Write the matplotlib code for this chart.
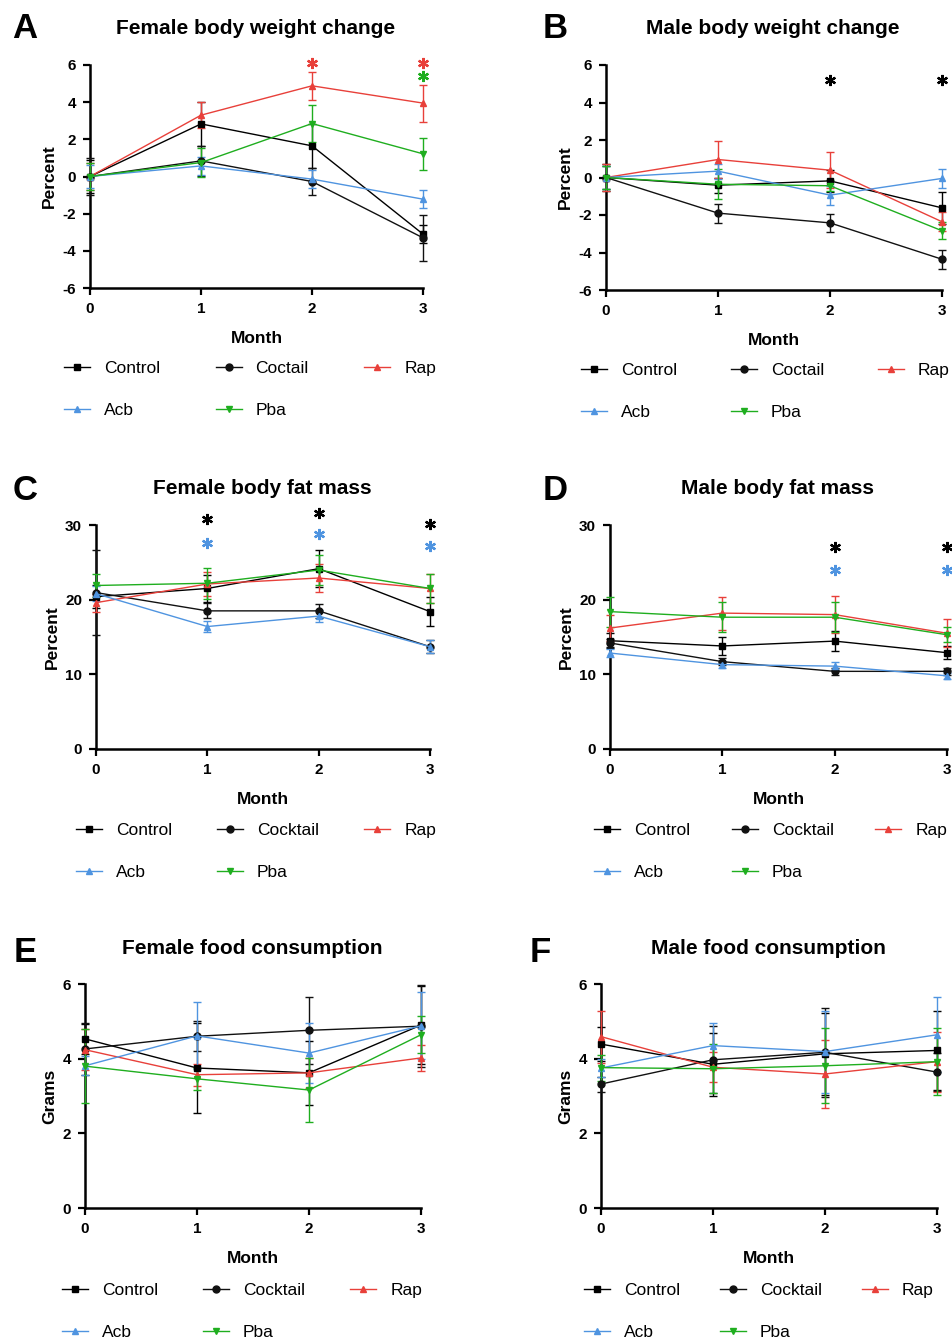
import numpy as np
import matplotlib
matplotlib.use("Agg")
import matplotlib.pyplot as plt
from matplotlib.lines import Line2D

plt.rcParams['font.family'] = ['Liberation Sans', 'DejaVu Sans']
plt.rcParams['axes.unicode_minus'] = False

W, H = 953, 1340
months = [0, 1, 2, 3]
groups = ["Control", "Coctail", "Rap", "Acb", "Pba"]
groups_alt = ["Control", "Cocktail", "Rap", "Acb", "Pba"]
colors = ["#000000", "#111111", "#e8403a", "#4f94e0", "#1fae1f"]
markers = ["s", "o", "^", "^", "v"]

# rows: Control, Cocktail, Rap, Acb, Pba
A_mean = [[0, 2.83, 1.65, -3.10], [0, 0.84, -0.27, -3.30], [0, 3.30, 4.88, 3.95],
          [0, 0.57, -0.14, -1.22], [0, 0.75, 2.85, 1.22]]
A_err = [[0.9, 1.2, 1.2, 0.5], [1.0, 0.8, 0.75, 1.25], [0.7, 0.7, 0.75, 1.0],
         [0.6, 0.5, 0.5, 0.5], [0.7, 0.8, 1.0, 0.85]]
B_mean = [[0, -0.41, -0.18, -1.62], [0, -1.90, -2.42, -4.36], [0, 0.96, 0.39, -2.36],
          [0, 0.34, -0.94, -0.05], [0, -0.36, -0.44, -2.84]]
B_err = [[0.7, 0.4, 0.6, 0.85], [0.6, 0.5, 0.5, 0.5], [0.7, 0.97, 0.95, 0.5],
         [0.6, 0.4, 0.5, 0.5], [0.6, 0.8, 0.3, 0.45]]
C_mean = [[20.4, 21.5, 24.15, 18.4], [20.95, 18.5, 18.5, 13.7], [19.6, 22.1, 22.9, 21.5],
          [20.8, 16.4, 17.8, 13.7], [21.9, 22.2, 23.97, 21.5]]
C_err = [[1.5, 1.8, 2.5, 1.9], [5.7, 1.0, 0.9, 0.9], [1.2, 1.6, 1.9, 2.0],
         [1.0, 0.7, 0.8, 0.9], [1.6, 2.1, 2.0, 2.0]]
D_mean = [[14.5, 13.8, 14.45, 12.9], [14.2, 11.7, 10.4, 10.4], [16.2, 18.2, 18.0, 15.5],
          [12.85, 11.3, 11.1, 9.8], [18.4, 17.65, 17.65, 15.3]]
D_err = [[1.0, 1.2, 1.3, 0.9], [0.5, 0.5, 0.5, 0.5], [1.7, 2.2, 2.5, 1.9],
         [0.5, 0.5, 0.5, 0.4], [2.0, 2.0, 2.0, 1.0]]
E_mean = [[4.53, 3.75, 3.62, 4.90], [4.26, 4.60, 4.76, 4.87], [4.24, 3.57, 3.62, 4.02],
          [3.81, 4.61, 4.15, 4.88], [3.80, 3.46, 3.16, 4.64]]
E_err = [[0.4, 1.2, 0.85, 1.05], [0.7, 0.4, 0.9, 1.1], [0.55, 0.3, 0.4, 0.35],
         [0.25, 0.9, 0.8, 0.9], [1.0, 0.3, 0.85, 0.5]]
F_mean = [[4.39, 3.85, 4.13, 4.22], [3.32, 3.97, 4.17, 3.64], [4.59, 3.77, 3.59, 3.92],
          [3.75, 4.35, 4.19, 4.64], [3.76, 3.73, 3.81, 3.92]]
F_err = [[0.45, 0.85, 1.1, 1.05], [0.2, 0.9, 1.2, 0.5], [0.7, 0.4, 0.9, 0.8],
         [0.25, 0.6, 1.1, 1.0], [0.35, 0.65, 1.0, 0.9]]

# significance asterisks: (month, y, colour index)
A_stars = [(2, 6.1, 2), (3, 6.1, 2), (3, 5.4, 4)]
B_stars = [(2, 5.2, 0), (3, 5.2, 0)]
C_stars = [(1, 30.8, 0), (1, 27.6, 3), (2, 31.6, 0), (2, 28.8, 3), (3, 30.2, 0), (3, 27.2, 3)]
D_stars = [(2, 27.0, 0), (2, 24.0, 3), (3, 27.0, 0), (3, 24.0, 3)]

panels = [
    # letter, title, ylabel, mean, err, stars, ylim, yticks, labels,
    # axes box px (l,t,r,b), letter xy, title xy, legend xy, column spacing
    ("A", "Female body weight change", "Percent", A_mean, A_err, A_stars, (-6, 6), [-6, -4, -2, 0, 2, 4, 6],
     groups, (90, 65, 423, 288), (25, 28), (256, 28), (64, 361), 3.2),
    ("B", "Male body weight change", "Percent", B_mean, B_err, B_stars, (-6, 6), [-6, -4, -2, 0, 2, 4, 6],
     groups, (606, 65, 942, 290), (555, 28), (773, 28), (581, 363), 3.1),
    ("C", "Female body fat mass", "Percent", C_mean, C_err, C_stars, (0, 30), [0, 10, 20, 30],
     groups_alt, (96, 525, 430, 749), (25, 490), (262, 488), (76, 823), 2.6),
    ("D", "Male body fat mass", "Percent", D_mean, D_err, D_stars, (0, 30), [0, 10, 20, 30],
     groups_alt, (610, 525, 947, 749), (555, 490), (778, 488), (594, 823), 2.4),
    ("E", "Female food consumption", "Grams", E_mean, E_err, [], (0, 6), [0, 2, 4, 6],
     groups_alt, (85, 984, 421, 1208), (25, 953), (252, 948), (62, 1283), 2.6),
    ("F", "Male food consumption", "Grams", F_mean, F_err, [], (0, 6), [0, 2, 4, 6],
     groups_alt, (601, 984, 937, 1208), (540, 953), (768, 948), (584, 1283), 2.3),
]

fig = plt.figure(figsize=(W / 100, H / 100), dpi=100)

for (letter, title, ylab, mean, err, stars, ylim, yticks, labels,
     box, lxy, txy, legxy, cspace) in panels:
    l, t, r, b = box
    ax = fig.add_axes([l / W, 1 - b / H, (r - l) / W, (b - t) / H])
    for k in range(5):
        cont = ax.errorbar(months, mean[k], yerr=err[k], color=colors[k], marker=markers[k],
                           ms=5, lw=1.0, elinewidth=1.0, capsize=3, capthick=1.0,
                           clip_on=False, zorder=3)
        for art in cont.lines[1] + cont.lines[2]:
            art.set_clip_on(False)
        cont.lines[0].set_clip_on(False)
    for (mx, my, ci) in stars:
        ax.plot(mx, my, marker=(6, 2, 0), ms=8, mew=1.6, color=colors[ci], clip_on=False)
    ax.set_xlim(0, 3)
    ax.set_ylim(*ylim)
    ax.set_xticks(months)
    ax.set_yticks(yticks)
    for s in ["top", "right"]:
        ax.spines[s].set_visible(False)
    for s in ["left", "bottom"]:
        ax.spines[s].set_linewidth(1.8)
    ax.tick_params(width=1.6, length=5, labelsize=11, pad=5)
    for lab in ax.get_xticklabels() + ax.get_yticklabels():
        lab.set_fontweight("bold")
    ax.set_xlabel("Month", fontsize=12.5, fontweight="bold", labelpad=11)
    ax.set_ylabel(ylab, fontsize=12.5, fontweight="bold")
    fig.text(lxy[0] / W, 1 - lxy[1] / H, letter, fontsize=25, fontweight="bold",
             ha="center", va="center")
    fig.text(txy[0] / W, 1 - txy[1] / H, title, fontsize=15, fontweight="bold",
             ha="center", va="center")
    handles = [Line2D([], [], color=colors[k], marker=markers[k], ms=5, lw=1.0) for k in range(5)]
    order = [0, 3, 1, 4, 2]
    ax.legend([handles[i] for i in order], [labels[i] for i in order], ncol=3,
              loc="upper left", bbox_to_anchor=(legxy[0] / W, 1 - legxy[1] / H),
              bbox_transform=fig.transFigure, frameon=False, fontsize=12.5,
              handlelength=1.5, handletextpad=0.8, columnspacing=cspace,
              labelspacing=1.55, borderpad=0, borderaxespad=0)

fig.savefig("out.png", dpi=100)
